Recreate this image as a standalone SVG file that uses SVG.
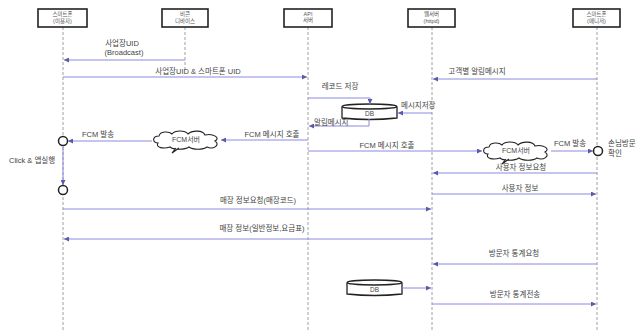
<svg xmlns="http://www.w3.org/2000/svg" width="638" height="331" viewBox="0 0 638 331">
<defs>
<style>
.bg{fill:#ffffff}
.hdr rect{fill:#fff;stroke:#222;stroke-width:1.6}
.hdr text{font-family:"Liberation Sans","Noto Sans CJK KR",sans-serif;font-size:5.5px;fill:#555;text-anchor:middle}
.life{stroke:#888;stroke-width:0.8;stroke-dasharray:3,2;fill:none}
.msg{stroke:#8a8ae0;stroke-width:1;fill:none;marker-end:url(#ah)}
.lbl{font-family:"Liberation Sans","Noto Sans CJK KR",sans-serif;font-size:7.5px;fill:#444}
.mid{text-anchor:middle}
.db path,.db ellipse{fill:#fff;stroke:#222;stroke-width:1.3}
.cloud path,.cloud use{fill:#fff;stroke:#222;stroke-width:1.1}
.act{fill:#fff;stroke:#222;stroke-width:1.5}
</style>
<marker id="ah" viewBox="0 0 6 6" refX="6" refY="3" markerWidth="5" markerHeight="5" orient="auto" markerUnits="userSpaceOnUse">
<path d="M0,0 L6,3 L0,6 z" fill="#5a5aa8"/>
</marker>
<path id="cloudShape" d="M6,12 C0,12 0,5 7,5 C8,0 17,0 20,3 C23,-1 33,-1 36,3 C40,-1 51,-1 53,4 C61,2 69,7 63,10 C69,14 61,19 55,16 C51,19 41,19 37,16 C33,19 21,19 18,16 C12,18 3,17 6,12 Z"/>
</defs>
<rect class="bg" x="0" y="0" width="638" height="331"/>

<g id="lifelines">
<line class="life" x1="63" y1="27" x2="63" y2="331"/>
<line class="life" x1="185" y1="27" x2="185" y2="70"/>
<line class="life" x1="308" y1="27" x2="308" y2="331"/>
<line class="life" x1="432" y1="27" x2="432" y2="331"/>
<line class="life" x1="597" y1="27" x2="597" y2="331"/>
</g>

<g id="n1" class="hdr"><rect x="38" y="9" width="49" height="18"/><text x="62.5" y="16">스마트폰</text><text x="62.5" y="23">(이용자)</text></g>
<g id="n2" class="hdr"><rect x="162" y="9" width="46" height="18"/><text x="185" y="16">비콘</text><text x="185" y="23">디바이스</text></g>
<g id="n3" class="hdr"><rect x="284" y="9" width="48" height="18"/><text x="308" y="16">API</text><text x="308" y="22">서버</text></g>
<g id="n4" class="hdr"><rect x="408" y="9" width="47" height="18"/><text x="431.5" y="16">웹서버</text><text x="431.5" y="23">(httpd)</text></g>
<g id="n5" class="hdr"><rect x="573" y="9" width="47" height="18"/><text x="596.5" y="16">스마트폰</text><text x="596.5" y="23">(매니저)</text></g>

<g id="db1" class="db">
<path d="M342,107 L342,118 Q369.5,121 397,118 L397,107"/>
<ellipse cx="369.5" cy="106.5" rx="27.5" ry="2.5"/>
<text class="lbl mid" x="369.5" y="116" style="font-size:6.5px">DB</text>
</g>
<g id="db2" class="db">
<path d="M347,283 L347,294 Q374.5,297 402,294 L402,283"/>
<ellipse cx="374.5" cy="282.5" rx="27.5" ry="2.5"/>
<text class="lbl mid" x="374.5" y="292" style="font-size:6.5px">DB</text>
</g>

<g id="cloud1" class="cloud">
<use href="#cloudShape" transform="translate(152,131)"/>
<path d="M176,148 L172,153 L179,148"/>
<text class="lbl mid" x="186" y="142" style="font-size:7px">FCM서버</text>
</g>
<g id="cloud2" class="cloud">
<use href="#cloudShape" transform="translate(482,142)"/>
<path d="M506,159 L502,164 L509,159"/>
<text class="lbl mid" x="516" y="153" style="font-size:7px">FCM서버</text>
</g>

<g id="act1"><circle class="act" cx="63" cy="141" r="4.5"/></g>
<g id="act2"><circle class="act" cx="63" cy="190" r="4.5"/></g>
<g id="act3"><circle class="act" cx="598" cy="151" r="4.5"/></g>

<g id="connectors">
<line class="msg" x1="185" y1="60" x2="64" y2="60"/>
<line class="msg" x1="63" y1="77" x2="307" y2="77"/>
<line class="msg" x1="597" y1="79" x2="433" y2="79"/>
<polyline class="msg" points="308,98 370,98 370,104"/>
<line class="msg" x1="432" y1="113" x2="398" y2="113"/>
<polyline class="msg" points="369,119 369,126 309,126"/>
<line class="msg" x1="308" y1="140" x2="221" y2="140"/>
<line class="msg" x1="152" y1="141" x2="68" y2="141"/>
<line class="msg" x1="63" y1="146" x2="63" y2="185"/>
<line class="msg" x1="308" y1="151" x2="482" y2="151"/>
<line class="msg" x1="551" y1="151" x2="593" y2="151"/>
<line class="msg" x1="597" y1="173" x2="433" y2="173"/>
<line class="msg" x1="432" y1="194" x2="596" y2="194"/>
<line class="msg" x1="63" y1="209" x2="431" y2="209"/>
<line class="msg" x1="432" y1="239" x2="64" y2="239"/>
<line class="msg" x1="597" y1="264" x2="433" y2="264"/>
<line class="msg" x1="402" y1="288" x2="431" y2="288"/>
<line class="msg" x1="432" y1="304" x2="596" y2="304"/>
</g>

<g id="labels">
<text class="lbl mid" x="122" y="46">사업장UID</text>
<text class="lbl mid" x="124" y="55">(Broadcast)</text>
<text class="lbl mid" x="198" y="74">사업장UID &amp; 스마트폰 UID</text>
<text class="lbl mid" x="477" y="74">고객별 알림메시지</text>
<text class="lbl mid" x="340" y="89">레코드 저장</text>
<text class="lbl" x="401" y="108">메시지저장</text>
<text class="lbl" x="314" y="125">알림메시지</text>
<text class="lbl mid" x="272" y="137">FCM 메시지 호출</text>
<text class="lbl mid" x="98" y="137">FCM 발송</text>
<text class="lbl" x="9" y="163">Click &amp; 앱실행</text>
<text class="lbl mid" x="387" y="148">FCM 메시지 호출</text>
<text class="lbl mid" x="570" y="146">FCM 발송</text>
<text class="lbl" x="608" y="146">손님방문</text>
<text class="lbl" x="608" y="156">확인</text>
<text class="lbl mid" x="521" y="170">사용자 정보요청</text>
<text class="lbl mid" x="520" y="191">사용자 정보</text>
<text class="lbl mid" x="258" y="203">매장 정보요청(매장코드)</text>
<text class="lbl mid" x="262" y="231">매장 정보(일반정보,요금표)</text>
<text class="lbl mid" x="514" y="256">방문자 통계요청</text>
<text class="lbl mid" x="515" y="297">방문자 통계전송</text>
</g>
</svg>
